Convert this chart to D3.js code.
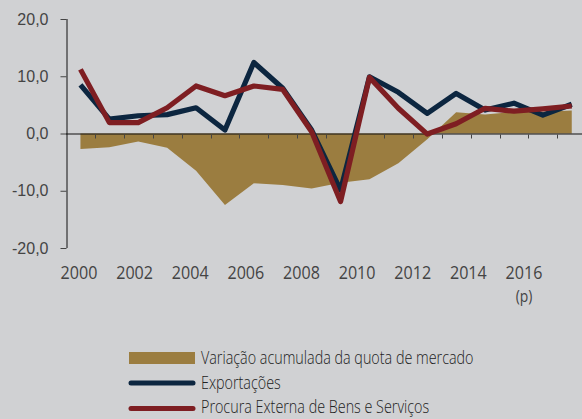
<!DOCTYPE html>
<html>
<head>
<meta charset="utf-8">
<script src="https://cdn.jsdelivr.net/npm/d3@7"></script>
<style>
  html, body { margin: 0; padding: 0; background: #d0d1d3; }
  svg { display: block; font-family: "Open Sans", sans-serif; }
</style>
</head>
<body>
<svg id="chart" width="582" height="419"></svg>
<script>
// categories and series
const years = [2000, 2001, 2002, 2003, 2004, 2005, 2006, 2007, 2008, 2009,
               2010, 2011, 2012, 2013, 2014, 2015, 2016, 2017];
const exportacoes = [8.5, 2.5, 3.1, 3.3, 4.5, 0.6, 12.4, 7.9, 0.6, -9.9,
                     9.9, 7.2, 3.5, 7.0, 4.1, 5.3, 3.2, 5.1];
const procura = [11.2, 1.9, 1.9, 4.5, 8.3, 6.6, 8.3, 7.7, 0.3, -11.9,
                 9.8, 4.4, -0.1, 1.7, 4.4, 3.9, 4.3, 4.8];
const quota = [-2.7, -2.4, -1.4, -2.5, -6.5, -12.5, -8.7, -9.0, -9.6, -8.6,
               -8.0, -5.2, -1.0, 3.7, 3.3, 3.8, 3.8, 4.0];
const yTicks = [-20, -10, 0, 10, 20];
const yearLabels = [2000, 2002, 2004, 2006, 2008, 2010, 2012, 2014, 2016];
const legendNames = ["Variação acumulada da quota de mercado", "Exportações",
                     "Procura Externa de Bens e Serviços"];

const colArea = "#9b7d40", colBlue = "#0c2640", colRed = "#7e1e22";

const svg = d3.select("#chart");

const x = d3.scaleBand().domain(years).range([66, 586.2]).padding(0);
const y = d3.scaleLinear().domain([-20, 20]).range([248, 19]);
// year labels sit on their own spacing in the original
const xl = d3.scaleLinear().domain([2000, 2016]).range([79, 524]);

const cx = d => x(d) + x.bandwidth() / 2;

const pt = d3.formatLocale({decimal: ",", thousands: ".", grouping: [3], currency: ["", "€"], minus: "-"});
const fmt = pt.format(".1f");

// market share area
const area = d3.area()
    .x((d, i) => cx(years[i]))
    .y0(y(0))
    .y1(d => y(d));
svg.append("path").datum(quota)
    .attr("d", area)
    .attr("fill", colArea);

// y axis
const yAxis = svg.append("g")
    .attr("transform", "translate(66.5,0)")
    .call(d3.axisLeft(y).tickValues(yTicks).tickSize(6).tickPadding(12).tickFormat(fmt));
yAxis.select(".domain").attr("stroke", "#111").attr("d", `M0.5,${y(20)}V${y(-20)}`);
yAxis.selectAll(".tick line").attr("stroke", "#444");
yAxis.selectAll("text")
    .attr("fill", "#444")
    .style("font-size", "16px");

// x axis (zero line with ticks between categories)
const xg = svg.append("g");
xg.append("line")
    .attr("x1", 66).attr("x2", 582)
    .attr("y1", y(0) + 0.5).attr("y2", y(0) + 0.5)
    .attr("stroke", "#111").attr("stroke-width", 1.2);
xg.selectAll("line.tk")
    .data(years.slice(1))
    .join("line")
    .attr("class", "tk")
    .attr("x1", d => Math.round(x(d)) + 0.5).attr("x2", d => Math.round(x(d)) + 0.5)
    .attr("y1", y(0) + 1).attr("y2", y(0) + 5)
    .attr("stroke", "#444");

const yl = svg.append("g").attr("fill", "#444").style("font-size", "18.5px");
yl.selectAll("text.yr")
    .data(yearLabels)
    .join("text")
    .attr("class", "yr")
    .attr("x", d => xl(d))
    .attr("y", 279)
    .attr("text-anchor", "middle")
    .text(d => d);
yl.append("text")
    .attr("x", xl(2016))
    .attr("y", 302)
    .attr("text-anchor", "middle")
    .style("font-size", "16px")
    .text("(p)");
yl.selectAll("text").each(function() {
  const w = this.getComputedTextLength();
  d3.select(this).attr("textLength", w * 0.87).attr("lengthAdjust", "spacingAndGlyphs");
});

// lines
const line = d3.line()
    .x((d, i) => cx(years[i]))
    .y(d => y(d));
svg.append("path").datum(exportacoes)
    .attr("d", line)
    .attr("fill", "none")
    .attr("stroke", colBlue)
    .attr("stroke-width", 5.2)
    .attr("stroke-linejoin", "round");
svg.append("path").datum(procura)
    .attr("d", line)
    .attr("fill", "none")
    .attr("stroke", colRed)
    .attr("stroke-width", 5.2)
    .attr("stroke-linejoin", "round");

// legend
const lg = svg.append("g");
lg.append("rect")
    .attr("x", 129).attr("y", 352).attr("width", 66).attr("height", 12)
    .attr("fill", colArea);
[colBlue, colRed].forEach((c, i) => {
  lg.append("line")
      .attr("x1", 131).attr("x2", 193)
      .attr("y1", 383 + i * 25.5).attr("y2", 383 + i * 25.5)
      .attr("stroke", c).attr("stroke-width", 5).attr("stroke-linecap", "round");
});
lg.selectAll("text")
    .data(legendNames)
    .join("text")
    .attr("x", 201)
    .attr("y", (d, i) => 364 + i * 24.5)
    .attr("fill", "#222")
    .style("font-size", "18.5px")
    .style("font-weight", 300)
    .text(d => d)
    .each(function() {
      const w = this.getComputedTextLength();
      d3.select(this).attr("textLength", w * 0.775).attr("lengthAdjust", "spacingAndGlyphs");
    });
</script>
</body>
</html>
